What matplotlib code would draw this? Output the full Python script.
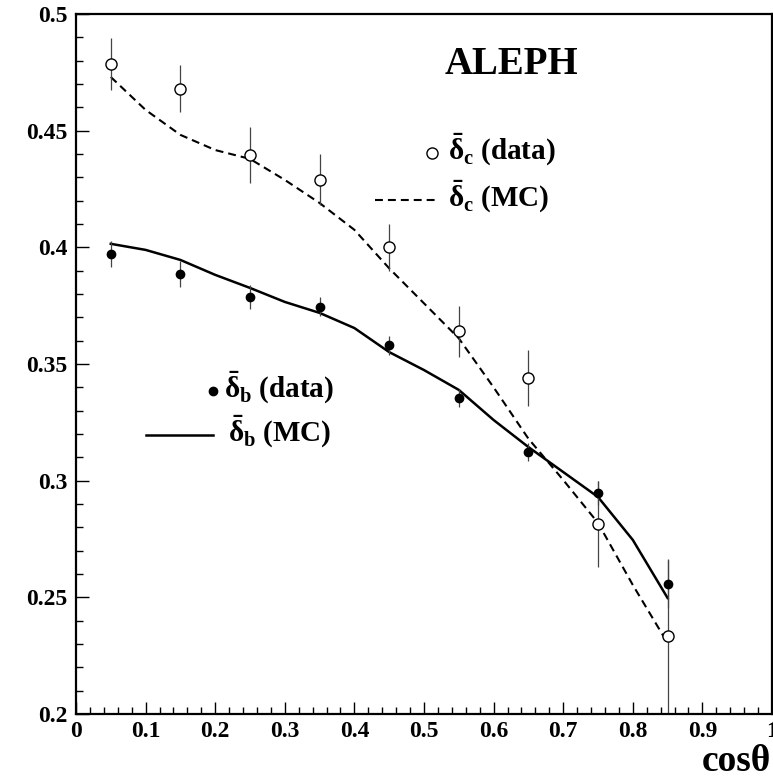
import matplotlib.pyplot as plt
from matplotlib.ticker import MultipleLocator

plt.rcParams['font.family'] = ['Liberation Serif', 'DejaVu Serif']
plt.rcParams['font.weight'] = 'bold'
plt.rcParams['mathtext.fontset'] = 'custom'
plt.rcParams['mathtext.rm'] = 'Liberation Serif:bold'
plt.rcParams['mathtext.it'] = 'Liberation Serif:bold'
plt.rcParams['mathtext.bf'] = 'Liberation Serif:bold'

# bins in cos(theta)
cos_bins = [0.05, 0.15, 0.25, 0.35, 0.45, 0.55, 0.65, 0.75, 0.85]

# delta_c data (open circles)
dc_data = [0.4786, 0.4680, 0.4396, 0.4290, 0.4000, 0.3640, 0.3440, 0.2814, 0.2334]
dc_err = [0.0110, 0.0100, 0.0120, 0.0110, 0.0100, 0.0110, 0.0120, 0.0185, 0.0330]

# delta_b data (filled dots)
db_data = [0.3972, 0.3886, 0.3787, 0.3745, 0.3580, 0.3354, 0.3123, 0.2947, 0.2557]
db_err = [0.0055, 0.0055, 0.0050, 0.0040, 0.0040, 0.0040, 0.0040, 0.0050, 0.0103]

# MC curves read every 0.05
mc_x = [0.05, 0.10, 0.15, 0.20, 0.25, 0.30, 0.35, 0.40, 0.45,
        0.50, 0.55, 0.60, 0.65, 0.70, 0.75, 0.80, 0.85]
dc_mc = [0.4730, 0.4589, 0.4482, 0.4417, 0.4379, 0.4289, 0.4190, 0.4075, 0.3910,
         0.3760, 0.3610, 0.3400, 0.3180, 0.3003, 0.2819, 0.2553, 0.2304]
db_mc = [0.4015, 0.3989, 0.3946, 0.3882, 0.3826, 0.3766, 0.3719, 0.3654, 0.3551,
         0.3474, 0.3389, 0.3260, 0.3144, 0.3037, 0.2930, 0.2746, 0.2497]

x_ticks = [0, 0.1, 0.2, 0.3, 0.4, 0.5, 0.6, 0.7, 0.8, 0.9, 1.0]
x_labels = ['0', '0.1', '0.2', '0.3', '0.4', '0.5', '0.6', '0.7', '0.8', '0.9', '1']
y_ticks = [0.2, 0.25, 0.3, 0.35, 0.4, 0.45, 0.5]
y_labels = ['0.2', '0.25', '0.3', '0.35', '0.4', '0.45', '0.5']

fig = plt.figure(figsize=(7.73, 7.78), dpi=100)
ax = fig.add_axes([0.0983, 0.0823, 0.9004, 0.8997])

ax.plot(mc_x, dc_mc, color='black', lw=1.5, dashes=(3.8, 2.4))
ax.plot(mc_x, db_mc, color='black', lw=1.8)

ax.errorbar(cos_bins, dc_data, yerr=dc_err, fmt='o', ms=8, mfc='white',
            mec='black', mew=1.0, ecolor='#444444', elinewidth=0.9, capsize=0)
ax.errorbar(cos_bins, db_data, yerr=db_err, fmt='o', ms=6, mfc='black',
            mec='black', ecolor='#444444', elinewidth=0.9, capsize=0)

ax.set_xlim(0, 1)
ax.set_ylim(0.2, 0.5)
ax.set_xticks(x_ticks, x_labels)
ax.set_yticks(y_ticks, y_labels)
ax.xaxis.set_minor_locator(MultipleLocator(0.02))
ax.yaxis.set_minor_locator(MultipleLocator(0.01))
ax.tick_params(which='both', direction='in', top=False, right=False, labelsize=17, width=1)
ax.tick_params(which='major', length=9)
ax.tick_params(which='minor', length=5)
ax.tick_params(axis='y', pad=6)
ax.tick_params(axis='x', pad=5)
for s in ax.spines.values():
    s.set_linewidth(1.6)

fig.text(0.997, 0.009, 'cosθ', fontsize=27, ha='right', va='baseline')

ax.text(0.625, 0.4785, 'ALEPH', fontsize=28, ha='center', va='center')

# legend entries drawn by hand
ax.plot([0.511], [0.4405], 'o', ms=8, mfc='white', mec='black', mew=1.0)
ax.text(0.534, 0.4375, r'$\bar{\delta}_{c}$ (data)', fontsize=21, va='baseline')
ax.plot([0.430, 0.516], [0.4204, 0.4204], color='black', lw=1.5, dashes=(3.8, 2.4))
ax.text(0.534, 0.4175, r'$\bar{\delta}_{c}$ (MC)', fontsize=21, va='baseline')

ax.plot([0.197], [0.3385], 'o', ms=6, mfc='black', mec='black')
ax.text(0.213, 0.3355, r'$\bar{\delta}_{b}$ (data)', fontsize=21, va='baseline')
ax.plot([0.100, 0.197], [0.3195, 0.3195], color='black', lw=1.8)
ax.text(0.218, 0.3165, r'$\bar{\delta}_{b}$ (MC)', fontsize=21, va='baseline')

plt.savefig('out.png', dpi=100)
